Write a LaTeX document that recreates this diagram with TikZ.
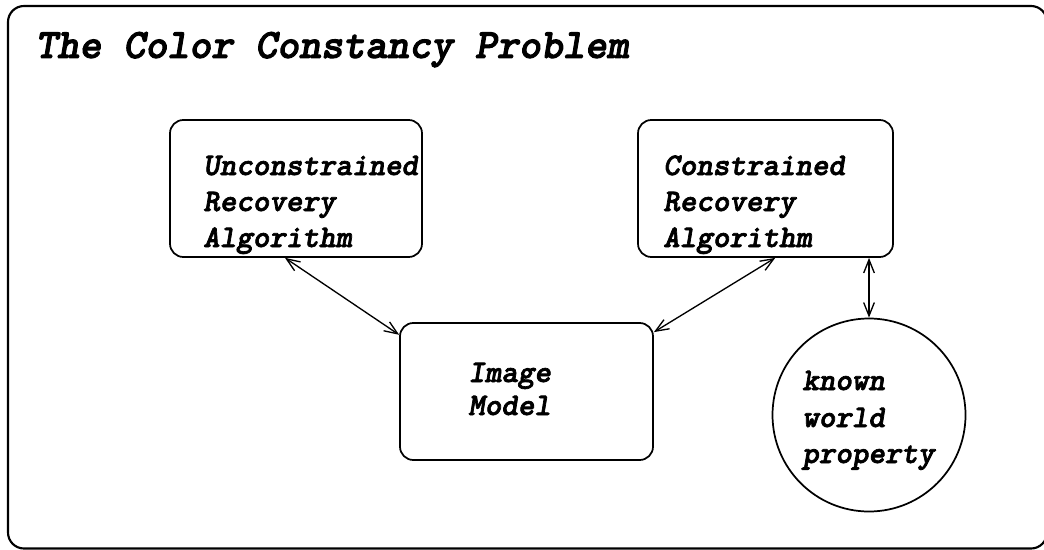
\documentclass[tikz,border=0pt]{standalone}
\usepackage{fontspec}
\setmonofont{lmmonolt10-regular.otf}[BoldFont=lmmonolt10-bold.otf, BoldItalicFont=lmmonolt10-boldoblique.otf, ItalicFont=lmmonolt10-oblique.otf, BoldItalicFeatures={FakeBold=2.2}]
\usetikzlibrary{fit,arrows.meta}
\begin{document}
\begin{tikzpicture}[x=0.75pt,y=-0.75pt,
  frame/.style={draw, line width=1.6pt, rounded corners=12pt, inner sep=0pt},
  box/.style={draw, line width=1.3pt, rounded corners=10pt, inner sep=0pt},
  circ/.style={draw, circle, line width=1.3pt, minimum size=144.75pt, inner sep=0pt},
  lbl/.style={anchor=base west, inner sep=0pt, font=\ttfamily\bfseries\itshape\fontsize{23.6}{28}\selectfont},
  ttl/.style={anchor=base west, inner sep=0pt, font=\ttfamily\bfseries\itshape\fontsize{31.4}{36}\selectfont},
  link/.style={line width=1pt, {Straight Barb[length=10pt,width=8pt]}-{Straight Barb[length=10pt,width=8pt]}}
]
\useasboundingbox (0,0) rectangle (1044,549);
\node[frame, fit={(8,6) (1047,548.5)}] (frame) {};
\node[ttl] (title) at (35,58) {The Color Constancy Problem};

\node[box, fit={(170,120) (422,257)}] (ura) {};
\node[box, fit={(638,120) (893,257)}] (cra) {};
\node[box, fit={(400,323) (653,460)}] (img) {};
\node[circ] (kwp) at (869,415) {};

\node[lbl] (ura1) at (203,175) {Unconstrained};
\node[lbl] (ura2) at (203,211) {Recovery};
\node[lbl] (ura3) at (203,247) {Algorithm};

\node[lbl] (cra1) at (663,175) {Constrained};
\node[lbl] (cra2) at (663,211) {Recovery};
\node[lbl] (cra3) at (663,247) {Algorithm};

\node[lbl] (img1) at (468,382) {Image};
\node[lbl] (img2) at (468,415) {Model};

\node[lbl] (kwp1) at (802,390) {known};
\node[lbl] (kwp2) at (802,427) {world};
\node[lbl] (kwp3) at (802,463) {property};

\draw[link] (ura.-99) -- (img.156);
\draw[link] (cra.-82) -- (img.25);
\draw[link] (cra.south -| kwp.north) -- (kwp.north);
\end{tikzpicture}
\end{document}
